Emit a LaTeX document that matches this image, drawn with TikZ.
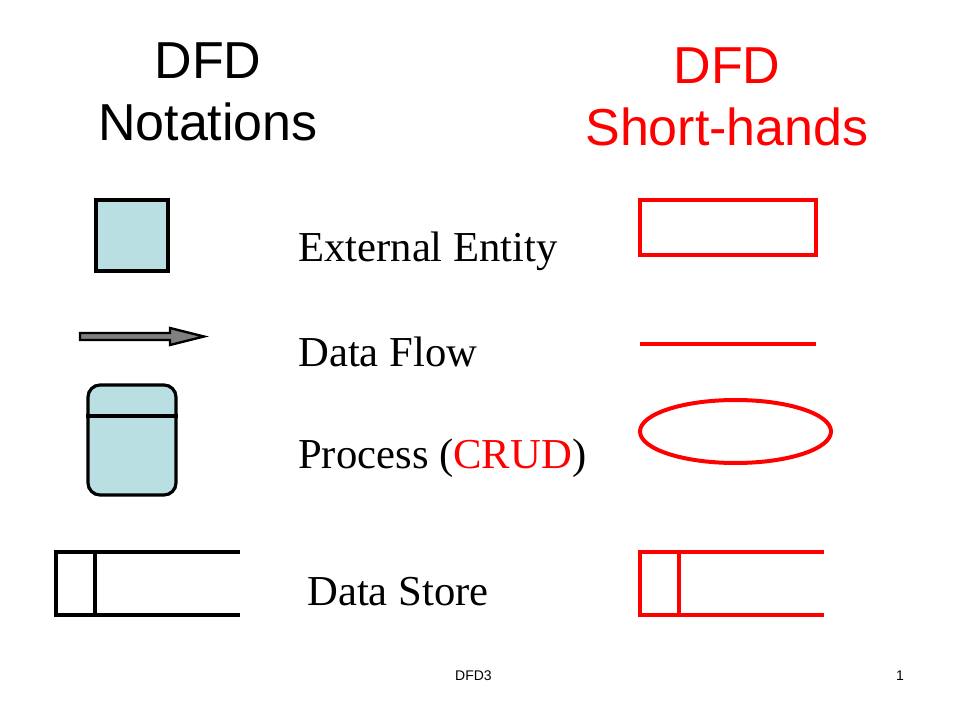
\documentclass[tikz,border=0pt]{standalone}
\usepackage{fontspec}
\setmainfont{Liberation Serif}
\newfontfamily\arial{Liberation Sans}
\definecolor{lblue}{HTML}{BADFE3}
\definecolor{pred}{HTML}{FF0000}
\definecolor{agray}{HTML}{808080}
\begin{document}
\begin{tikzpicture}[x=0.75pt,y=-0.75pt,
  blk/.style={draw=black,line width=2.4pt},
  redl/.style={draw=pred,line width=3pt},
  heading/.style={font=\arial\fontsize{39}{46.5}\selectfont,align=center,inner sep=0pt},
  label/.style={font=\fontsize{32}{38}\selectfont,anchor=base west,inner sep=0pt},
  foot/.style={font=\arial\fontsize{10.5}{12}\selectfont,anchor=base,inner sep=0pt}]
\useasboundingbox (0,0) rectangle (960,720);
% headings
\node[heading] (h1) at (208,92) {DFD\\Notations};
\node[heading,text=pred] (h2) at (727,97) {DFD\\Short-hands};
% labels
\node[label] (t1) at (298,262) {External Entity};
\node[label] (t2) at (298,366) {Data Flow};
\node[label] (t3) at (298,468) {Process (\textcolor{pred}{CRUD})};
\node[label] (t4) at (307,605) {Data Store};
% notation symbols
\node[blk,fill=lblue,minimum width=72*0.75pt,minimum height=71*0.75pt,inner sep=0pt] (ee) at (132,235.5) {};
\path[blk,fill=agray,line width=1.8pt] (80,333) coordinate (af) -- (170,333) -- (170,328) -- (204,336.5) coordinate (at) -- (170,345) -- (170,340) -- (80,340) -- cycle;
\node[blk,fill=lblue,rounded corners=9pt,minimum width=88*0.75pt,minimum height=110*0.75pt,inner sep=0pt] (pr) at (132,440) {};
\draw[blk] (pr.west |- 0,416) -- (pr.east |- 0,416);
\coordinate (ds1a) at (240,552);
\coordinate (ds1b) at (240,615);
\draw[blk] (ds1a) -- (56,552) -- (56,615) -- (ds1b);
\draw[blk] (95,552) -- (95,615);
% short-hand symbols
\node[redl,minimum width=176*0.75pt,minimum height=55*0.75pt,inner sep=0pt] (see) at (728,227.5) {};
\coordinate (fl1) at (640,344);
\coordinate (fl2) at (816,344);
\draw[redl] (fl1) -- (fl2);
\draw[redl] (735.5,431.5) ellipse [x radius=95.5, y radius=31.5];
\coordinate (ds2a) at (824,552);
\coordinate (ds2b) at (824,615);
\draw[redl] (ds2a) -- (640,552) -- (640,615) -- (ds2b);
\draw[redl] (679,552) -- (679,615);
% footer
\node[foot] (f1) at (473.5,680) {DFD3};
\node[foot] (f2) at (900,680) {1};
\end{tikzpicture}
\end{document}
